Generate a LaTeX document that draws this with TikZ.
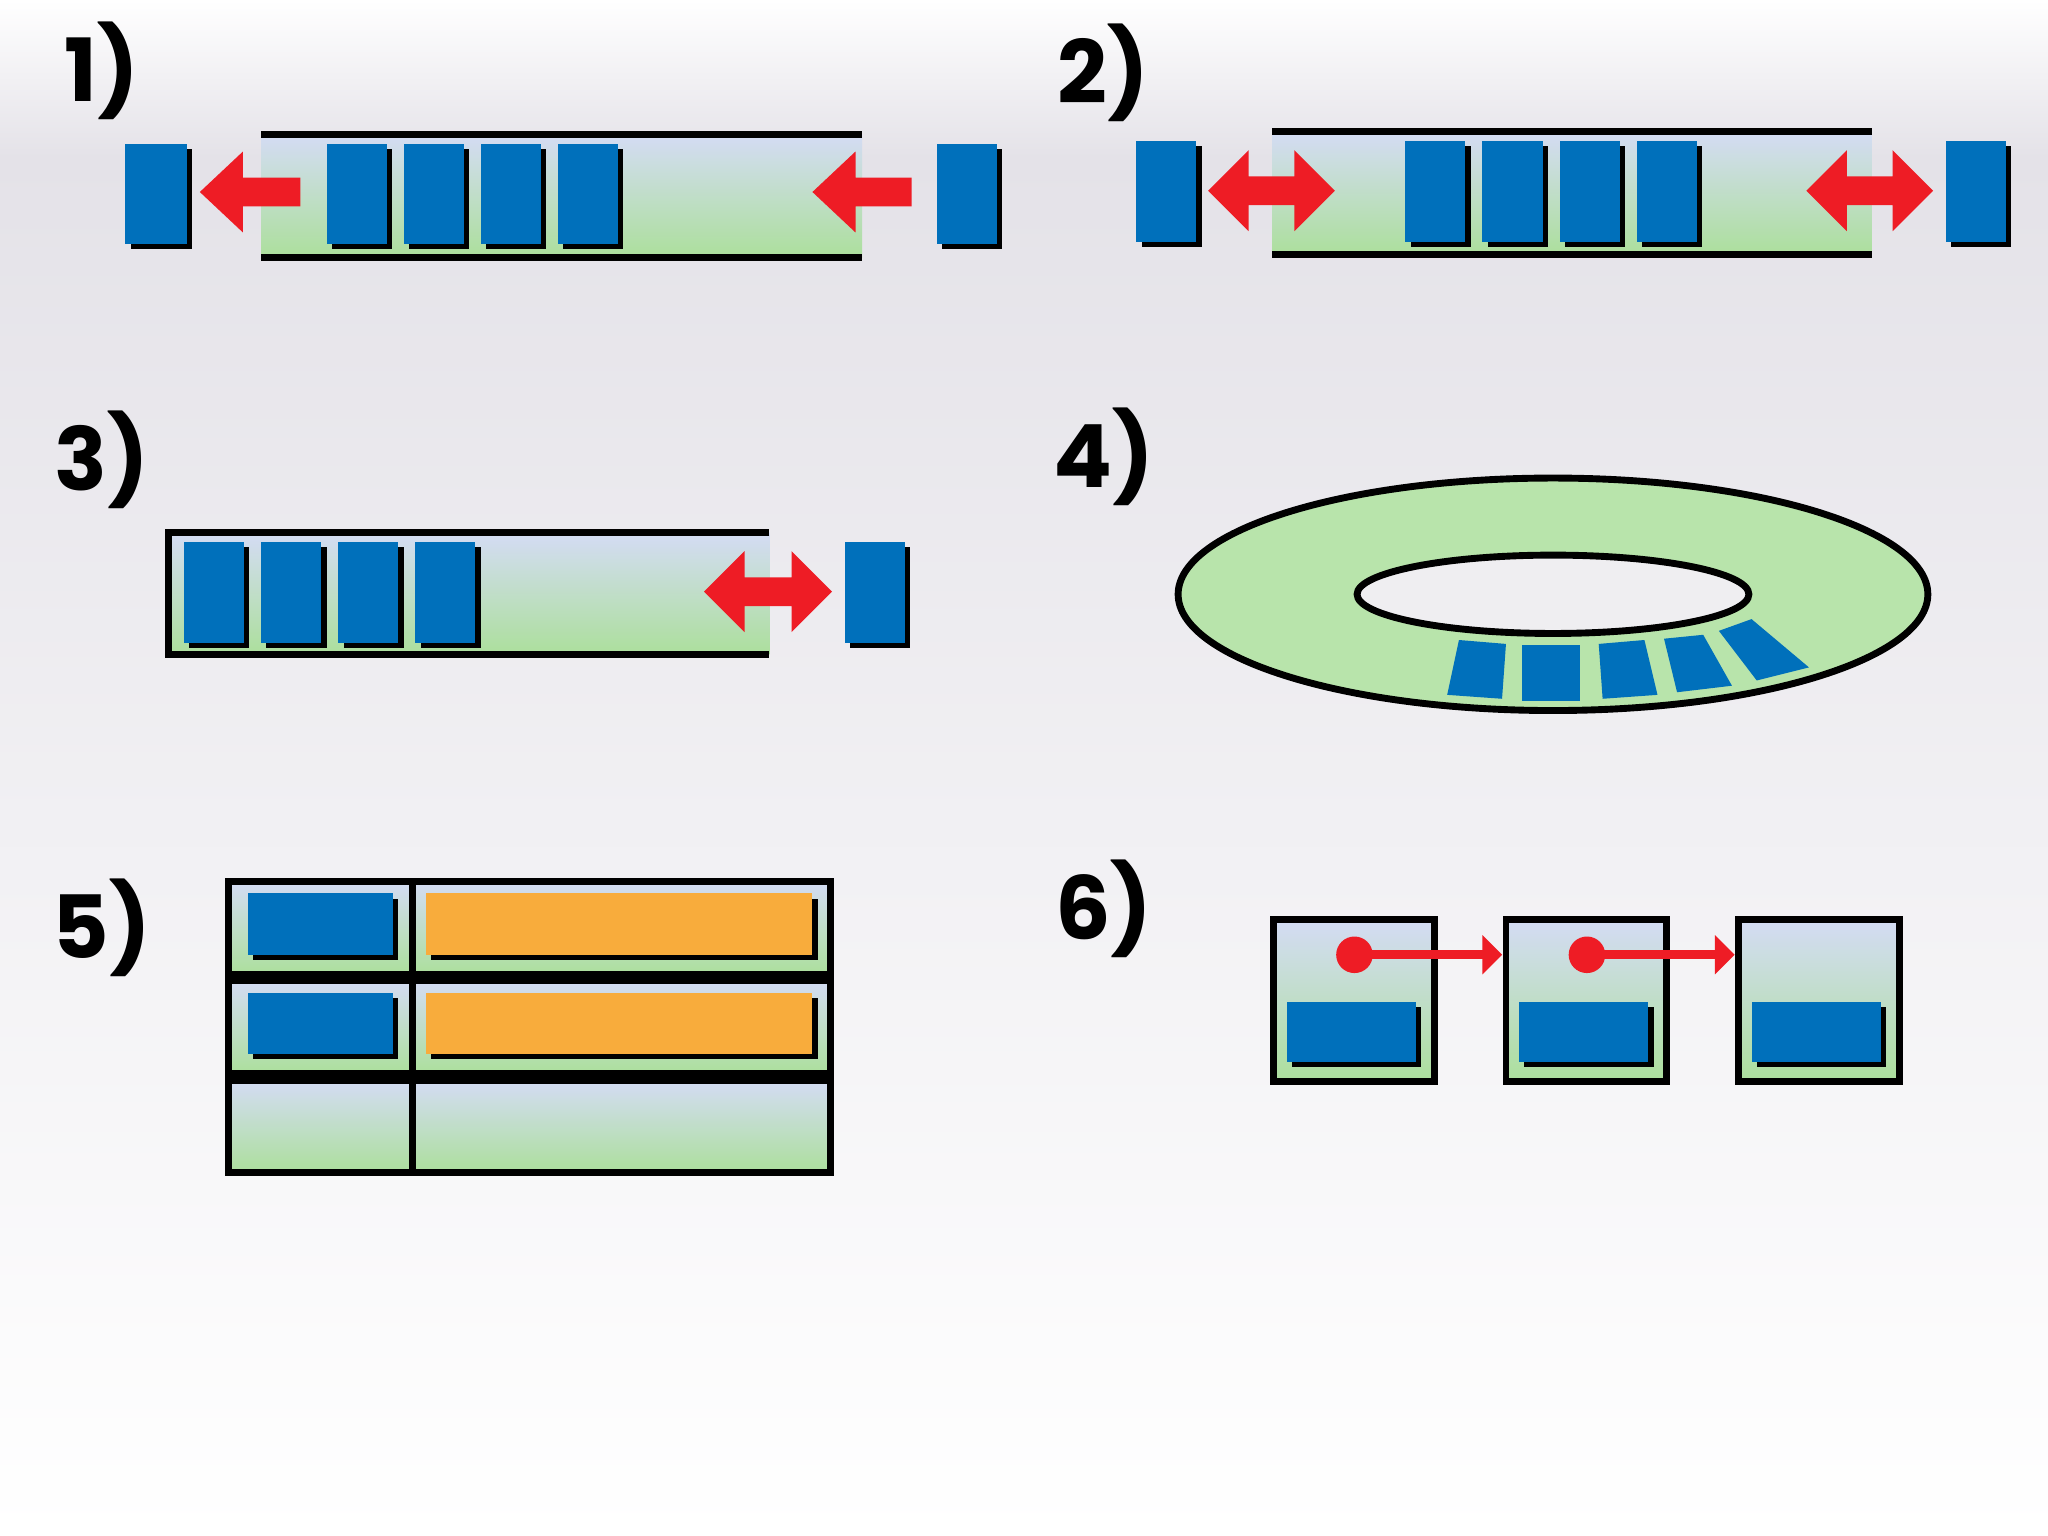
\documentclass[tikz,border=0pt]{standalone}
\usepackage{fontspec}
\setmainfont{Poppins}
\begin{document}
\begin{tikzpicture}[x=0.02cm,y=-0.02cm,
  lbl/.style={font=\fontsize{38}{42}\selectfont\bfseries,inner sep=0},
  grn/.style={top color=gbl,middle color=ggr,bottom color=glt},
  blk/.style={fill=bblue,draw=none},
  shd/.style={fill=black}]
\definecolor{bblue}{HTML}{0070BB}
\definecolor{gbl}{HTML}{D4DCF4}
\definecolor{ggr}{HTML}{98D888}
\definecolor{glt}{HTML}{ACDF9C}
\definecolor{rred}{HTML}{EE1C25}
\definecolor{oor}{HTML}{F8AC3C}
\definecolor{bgg}{HTML}{E4E2E8}
\shade[top color=bgg,bottom color=white] (0,120) rectangle (1568,1176);
\shade[top color=white,bottom color=bgg] (0,0) rectangle (1568,120);
\useasboundingbox (0,0) rectangle (1568,1176);
\newcommand\bbk[4]{\fill[shd] (#1+4,#2+4) rectangle (#3+4,#4+4); \fill[blk] (#1,#2) rectangle (#3,#4);}
\newcommand\larr[3]{\fill[rred] (#2,#3-11) -- (#1+33,#3-11) -- (#1+33,#3-31) -- (#1,#3) -- (#1+33,#3+31) -- (#1+33,#3+11) -- (#2,#3+11) -- cycle;}
\newcommand\darr[3]{\fill[rred] (#1,#3) -- (#1+31,#3-31) -- (#1+31,#3-11) -- (#2-31,#3-11) -- (#2-31,#3-31) -- (#2,#3) -- (#2-31,#3+31) -- (#2-31,#3+11) -- (#1+31,#3+11) -- (#1+31,#3+31) -- cycle;}
% labels
\node[lbl] (l1) at (78,54) {1)};
\node[lbl] (l2) at (845,56) {2)};
\node[lbl] (l3) at (78,352) {3)};
\node[lbl] (l4) at (845,350) {4)};
\node[lbl] (l5) at (78,710) {5)};
\node[lbl] (l6) at (845,696) {6)};
% panel 1
\shade[grn] (200,103) rectangle (660,197);
\draw[line width=3pt] (200,103) -- (660,103) (200,197) -- (660,197);
\bbk{96}{110}{143}{187}
\foreach \x in {250,309,368,427}{\bbk{\x}{110}{\x+46}{187}}
\bbk{717}{110}{763}{187}
\larr{153}{230}{147}
\larr{622}{698}{147}
% panel 2
\shade[grn] (974,101) rectangle (1433,195);
\draw[line width=3pt] (974,101) -- (1433,101) (974,195) -- (1433,195);
\bbk{870}{108}{916}{185}
\foreach \x in {1076,1135,1194,1253}{\bbk{\x}{108}{\x+46}{185}}
\bbk{1490}{108}{1536}{185}
\darr{925}{1022}{146}
\darr{1383}{1480}{146}
% panel 3
\shade[grn] (129,408) rectangle (589,501);
\draw[line width=3pt] (589,408) -- (129,408) -- (129,501) -- (589,501);
\foreach \x in {141,200,259,318}{\bbk{\x}{415}{\x+46}{492}}
\bbk{647}{415}{693}{492}
\darr{539}{637}{453}
% panel 4
\draw[line width=3pt,fill=glt!85!white] (1189,455) ellipse [x radius=287,y radius=89];
\draw[line width=3pt,fill=bgg!60!white] (1189,455) ellipse [x radius=150,y radius=30];
\fill[bblue] (1117,490) -- (1153,493) -- (1150,535) -- (1108,532) -- cycle;
\fill[bblue] (1165,494) -- (1210,494) -- (1210,537) -- (1165,537) -- cycle;
\fill[bblue] (1224,493) -- (1259,490) -- (1269,532) -- (1227,535) -- cycle;
\fill[bblue] (1274,489) -- (1304,486) -- (1326,525) -- (1284,530) -- cycle;
\fill[bblue] (1316,483) -- (1341,474) -- (1385,511) -- (1345,521) -- cycle;
% panel 5
\foreach \y in {675,751,827}{
  \shade[grn] (175,\y) rectangle (636,\y+71);
  \draw[line width=3pt] (175,\y) rectangle (636,\y+71) (316,\y) -- (316,\y+71);}
\foreach \y in {684,760}{
  \bbk{190}{\y}{301}{\y+47}
  \fill[shd] (330,\y+4) rectangle (626,\y+51);
  \fill[oor] (326,\y) rectangle (622,\y+47);}
% panel 6
\foreach \x in {975,1153,1331}{
  \shade[grn] (\x,704) rectangle (\x+123,828);
  \draw[line width=3pt] (\x,704) rectangle (\x+123,828);
  \bbk{\x+10}{767}{\x+109}{813}}
\foreach \x in {1037,1215}{
  \fill[rred] (\x,731) circle (14);
  \draw[rred,line width=4pt] (\x,731) -- (\x+100,731);
  \fill[rred] (\x+113,731) -- (\x+98,716) -- (\x+98,746) -- cycle;}
\end{tikzpicture}
\end{document}
